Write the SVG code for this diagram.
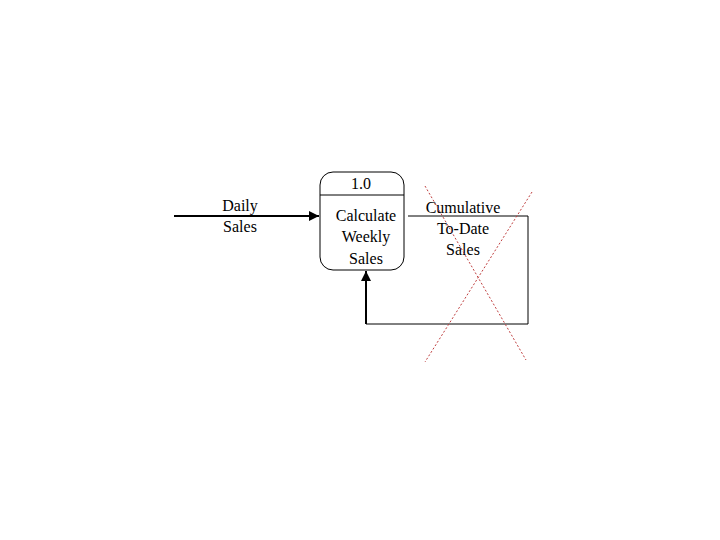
<svg xmlns="http://www.w3.org/2000/svg" width="720" height="540" viewBox="0 0 720 540">
<style>
text{font-family:"Liberation Serif",serif;font-size:16px;text-anchor:middle;fill:#000}
.ln{stroke:#000;fill:none}
.x{stroke:#c04040;stroke-width:1;stroke-dasharray:2,2;fill:none}
</style>
<defs><marker id="a" viewBox="0 0 10 10" refX="10" refY="5" markerWidth="5" markerHeight="5" orient="auto"><path d="M0,0L10,5L0,10z" fill="#000"/></marker></defs>
<rect width="720" height="540" fill="#fff"/>
<g id="connectors">
<path class="ln" stroke-width="2" d="M174,216H319" marker-end="url(#a)"/>
<path class="ln" stroke-width="1" d="M408,216H528V324H366"/>
<path class="ln" stroke-width="2" d="M366,324V271" marker-end="url(#a)"/>
</g>
<g id="process">
<rect x="320" y="172" width="84" height="98" rx="13" class="ln"/>
<line x1="320" y1="195" x2="404" y2="195" class="ln"/>
<text x="361" y="189">1.0</text>
<text x="366" y="221">Calculate</text>
<text x="366" y="242">Weekly</text>
<text x="366" y="264">Sales</text>
</g>
<g id="labels">
<text x="240" y="211">Daily</text>
<text x="240" y="232">Sales</text>
<text x="463" y="213">Cumulative</text>
<text x="463" y="234">To-Date</text>
<text x="463" y="255">Sales</text>
</g>
<g id="cross">
<line class="x" x1="425" y1="186" x2="526" y2="360"/>
<line class="x" x1="532" y1="192" x2="425" y2="362"/>
</g>
</svg>
